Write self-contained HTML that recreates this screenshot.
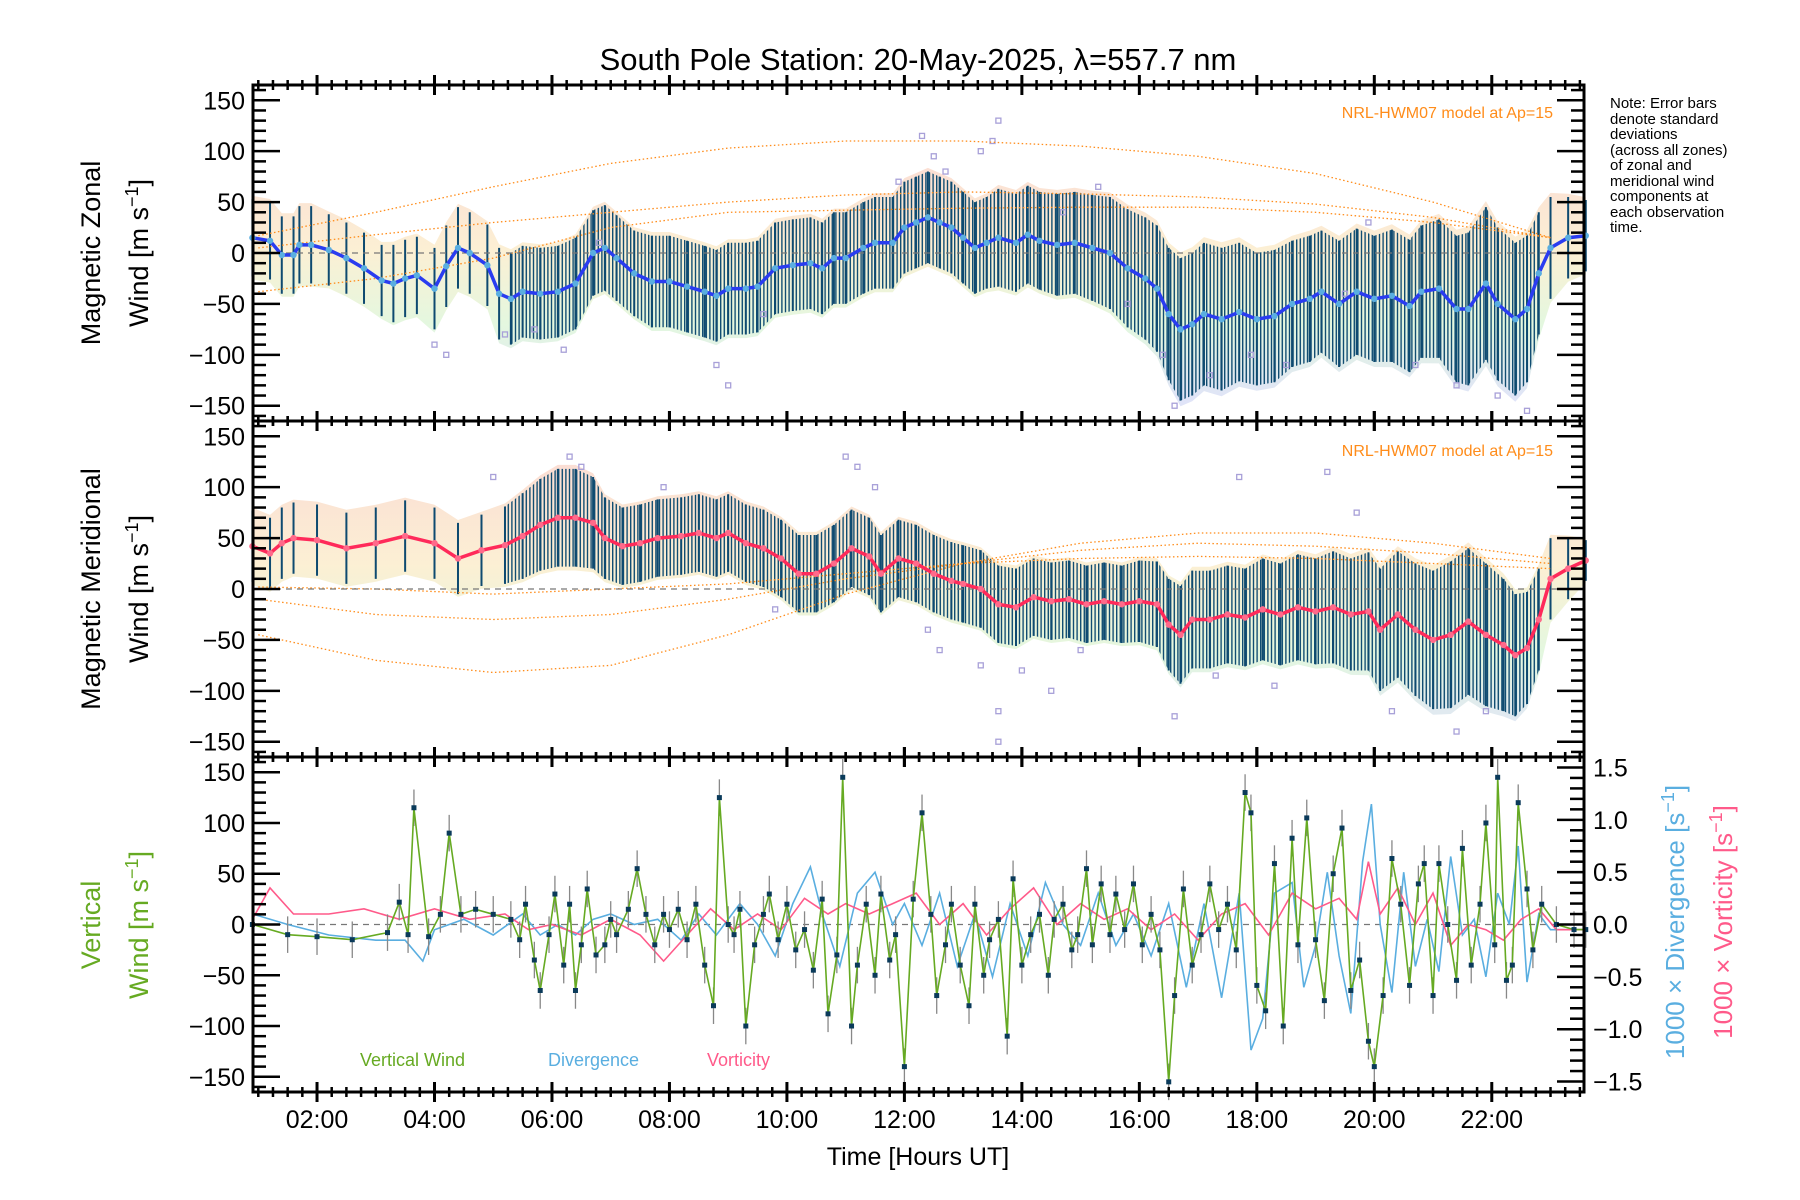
<!DOCTYPE html>
<html><head><meta charset="utf-8"><style>
body{margin:0;background:#fff}
svg{display:block;font-family:"Liberation Sans",sans-serif}
</style></head><body>
<svg id="chart" width="1800" height="1200" viewBox="0 0 1800 1200" xmlns="http://www.w3.org/2000/svg">
<defs>
<pattern id="stripes" patternUnits="userSpaceOnUse" width="3.6" height="10"><rect x="0" y="0" width="1.4" height="10" fill="#114d72"/></pattern>
<linearGradient id="paleZ" gradientUnits="userSpaceOnUse" x1="0" y1="150" x2="0" y2="400"><stop offset="0" stop-color="#f7b8a8"/><stop offset="0.4" stop-color="#f8e0a8"/><stop offset="0.7" stop-color="#c8f0c0"/><stop offset="1" stop-color="#c0c8f0"/></linearGradient>
<linearGradient id="paleM" gradientUnits="userSpaceOnUse" x1="0" y1="450" x2="0" y2="740"><stop offset="0" stop-color="#f7b8a8"/><stop offset="0.4" stop-color="#f8e0a8"/><stop offset="0.7" stop-color="#c8f0c0"/><stop offset="1" stop-color="#c0c8f0"/></linearGradient>
</defs>
<g id="layer"></g>
<text x="918" y="70" font-size="31" text-anchor="middle">South Pole Station: 20-May-2025, λ=557.7 nm</text>
<text x="918" y="1165" font-size="25" text-anchor="middle">Time [Hours UT]</text>
<g font-size="27" text-anchor="middle">
<text transform="translate(100,253) rotate(-90)">Magnetic Zonal</text>
<text transform="translate(148,253) rotate(-90)">Wind [m s<tspan dy="-10" font-size="18">−1</tspan><tspan dy="10">]</tspan></text>
</g>
<g font-size="27" text-anchor="middle">
<text transform="translate(100,589) rotate(-90)">Magnetic Meridional</text>
<text transform="translate(148,589) rotate(-90)">Wind [m s<tspan dy="-10" font-size="18">−1</tspan><tspan dy="10">]</tspan></text>
</g>
<g font-size="27" text-anchor="middle" fill="#66aa22">
<text transform="translate(100,925) rotate(-90)">Vertical</text>
<text transform="translate(148,925) rotate(-90)">Wind [m s<tspan dy="-10" font-size="18">−1</tspan><tspan dy="10">]</tspan></text>
</g>
<text font-size="26" text-anchor="middle" fill="#5aaee0" transform="translate(1684,922) rotate(-90)">1000 × Divergence [s<tspan dy="-10" font-size="18">−1</tspan><tspan dy="10">]</tspan></text>
<text font-size="26" text-anchor="middle" fill="#ff5a8a" transform="translate(1732,922) rotate(-90)">1000 × Vorticity [s<tspan dy="-10" font-size="18">−1</tspan><tspan dy="10">]</tspan></text>
<g font-size="15">
<text x="1610" y="108">Note: Error bars</text><text x="1610" y="124">denote standard</text><text x="1610" y="139">deviations</text><text x="1610" y="155">(across all zones)</text><text x="1610" y="170">of zonal and</text><text x="1610" y="186">meridional wind</text><text x="1610" y="201">components at</text><text x="1610" y="217">each observation</text><text x="1610" y="232">time.</text>
</g>
<text x="1553" y="118" font-size="16" fill="#ff8c1a" text-anchor="end">NRL-HWM07 model at Ap=15</text>
<text x="1553" y="456" font-size="16" fill="#ff8c1a" text-anchor="end">NRL-HWM07 model at Ap=15</text>
<text x="360" y="1066" font-size="18" fill="#66aa22">Vertical Wind</text>
<text x="548" y="1066" font-size="18" fill="#5aaee0">Divergence</text>
<text x="707" y="1066" font-size="18" fill="#ff5a8a">Vorticity</text>
</svg>
<script>
// ---- data ----
const zonalT=[0.9,1.2,1.4,1.6,1.7,1.9,2.2,2.5,2.8,3.1,3.3,3.5,3.7,4.0,4.2,4.4,4.6,4.9,5.1,5.3,5.5,5.8,6.1,6.4,6.7,6.9,7.1,7.4,7.7,8.0,8.3,8.6,8.8,9.0,9.3,9.5,9.8,10.1,10.4,10.6,10.8,11.0,11.3,11.5,11.8,12.0,12.2,12.4,12.6,12.8,13.0,13.2,13.4,13.6,13.9,14.1,14.3,14.6,14.9,15.2,15.5,15.8,16.1,16.3,16.5,16.7,16.9,17.1,17.4,17.7,18.0,18.3,18.6,18.9,19.1,19.4,19.7,20.0,20.3,20.6,20.8,21.1,21.4,21.6,21.9,22.1,22.4,22.6,22.8,23.0,23.3,23.6];
const zonalV=[15,12,-2,-2,8,8,3,-5,-15,-27,-30,-25,-22,-35,-13,5,0,-12,-40,-45,-38,-40,-38,-30,0,5,-5,-20,-28,-28,-33,-38,-42,-35,-35,-33,-15,-12,-10,-15,-5,-5,5,10,10,25,30,35,30,25,15,5,10,15,10,18,12,8,10,5,0,-15,-25,-35,-60,-75,-70,-60,-65,-58,-65,-62,-50,-45,-38,-50,-38,-45,-42,-52,-38,-35,-55,-55,-30,-50,-65,-55,-20,5,15,17];
const zonalS=[38,38,38,38,38,38,35,35,35,35,38,38,38,40,40,40,40,40,45,45,45,45,45,45,42,42,42,42,45,45,45,45,45,45,45,45,45,45,45,45,45,45,45,45,45,45,45,45,45,45,45,45,45,48,48,48,48,50,50,52,55,58,60,62,65,70,70,70,70,68,65,65,62,62,60,62,62,62,65,65,65,68,72,75,75,75,75,72,60,50,40,35];
const meridT=[0.9,1.2,1.4,1.6,2.0,2.5,3.0,3.5,4.0,4.4,4.8,5.2,5.5,5.8,6.1,6.4,6.7,6.9,7.2,7.5,7.8,8.2,8.5,8.8,9.0,9.3,9.6,9.9,10.2,10.5,10.8,11.1,11.4,11.6,11.9,12.2,12.5,12.8,13.0,13.3,13.6,13.9,14.2,14.5,14.8,15.1,15.4,15.7,16.0,16.3,16.5,16.7,16.9,17.2,17.5,17.8,18.1,18.4,18.7,19.0,19.3,19.6,19.9,20.1,20.4,20.7,21.0,21.3,21.6,21.9,22.2,22.4,22.6,22.8,23.0,23.3,23.6];
const meridV=[42,35,45,50,48,40,45,52,45,30,38,43,52,63,70,70,65,50,42,45,50,52,55,50,55,45,40,30,15,15,25,40,32,15,30,25,15,8,5,0,-15,-18,-8,-12,-10,-15,-12,-15,-12,-15,-35,-45,-30,-30,-25,-28,-20,-25,-18,-22,-18,-25,-22,-40,-25,-40,-50,-45,-32,-45,-55,-65,-58,-30,10,20,28];
const meridS=[35,35,35,35,35,35,35,35,35,35,35,38,42,45,48,48,45,40,38,38,38,38,38,38,38,38,38,38,38,38,38,38,38,38,38,38,38,38,38,38,38,38,38,38,38,38,38,38,40,42,45,48,48,48,48,48,50,50,52,52,55,55,58,60,62,65,68,72,72,70,65,60,55,50,40,30,20];
const modelT=[1,3,5,7,9,11,13,15,17,19,21,23];
const zonalModelA=[17,40,65,88,103,110,110,105,95,78,50,15];
const zonalModelB=[5,18,30,40,50,57,60,58,55,48,35,15];
const zonalModelC=[-38,-25,-5,25,40,42,44,45,45,40,30,15];
const meridModelA=[-45,-70,-82,-75,-45,-5,25,45,55,55,45,30];
const meridModelB=[-10,-25,-30,-25,-10,10,25,38,45,42,35,25];
const meridModelC=[2,0,-5,0,5,15,25,30,32,30,25,20];
const zonalOutT=[4.2,4.0,5.2,6.2,6.8,8.8,9.0,11.9,12.3,12.5,12.7,13.6,13.3,13.5,15.3,15.8,16.4,16.6,17.2,18.5,19.5,19.9,20.7,21.4,22.1,22.6,9.6,5.7,14.7,17.9];
const zonalOutV=[-100,-90,-80,-95,10,-110,-130,70,115,95,80,130,100,110,65,-50,-100,-150,-120,-110,-40,30,-110,-130,-140,-155,-60,-75,40,-100];
const meridOutT=[5.0,6.3,6.5,7.9,11.0,11.2,11.5,12.6,13.3,13.6,13.6,14.0,14.5,16.6,17.3,18.3,19.2,19.7,20.3,21.4,21.9,17.7,15.0,9.8,12.4];
const meridOutV=[110,130,120,100,130,120,100,-60,-75,-120,-150,-80,-100,-125,-85,-95,115,75,-120,-140,-120,110,-60,-20,-40];
const vertT=[0.9,1.5,2.0,2.6,3.2,3.4,3.55,3.65,3.9,4.1,4.25,4.45,4.7,5.0,5.3,5.45,5.55,5.7,5.8,5.95,6.05,6.2,6.3,6.4,6.5,6.6,6.75,6.9,7.0,7.1,7.3,7.45,7.6,7.75,7.9,8.0,8.15,8.3,8.45,8.6,8.75,8.85,9.0,9.1,9.2,9.3,9.45,9.6,9.7,9.85,10.0,10.15,10.3,10.45,10.6,10.7,10.85,10.95,11.1,11.2,11.35,11.5,11.6,11.75,11.85,12.0,12.15,12.3,12.45,12.55,12.7,12.8,12.95,13.1,13.2,13.35,13.45,13.6,13.75,13.85,14.0,14.15,14.3,14.45,14.55,14.7,14.85,14.95,15.1,15.2,15.35,15.5,15.6,15.75,15.9,16.05,16.2,16.35,16.5,16.6,16.75,16.9,17.05,17.2,17.35,17.5,17.65,17.8,17.9,18.0,18.15,18.3,18.45,18.6,18.7,18.85,19.0,19.15,19.3,19.45,19.6,19.75,19.9,20.0,20.15,20.3,20.45,20.6,20.75,20.85,21.0,21.1,21.25,21.4,21.5,21.65,21.8,21.9,22.05,22.1,22.25,22.35,22.45,22.6,22.7,22.85,23.1,23.4,23.6];
const vertV=[0,-10,-12,-15,-8,22,-10,115,-12,10,90,10,15,10,5,-15,20,-35,-65,-10,30,-40,20,-65,-20,35,-30,-20,5,-10,15,55,10,-20,10,-5,15,-15,20,-40,-80,125,0,-10,15,-100,-20,10,30,-15,20,-25,-5,-45,25,-88,-30,145,-100,-40,20,-50,30,-35,-10,-140,25,110,10,-70,-20,20,-40,-80,20,-50,-15,5,-110,45,-40,-10,10,-50,5,20,-25,-10,55,-20,40,-10,30,-5,40,-20,10,-25,-155,-70,35,-40,-10,40,-5,20,-25,130,110,-60,-85,60,-100,85,-20,105,-15,-75,50,95,-65,-35,-115,-140,-70,65,20,-60,40,60,-70,60,0,-55,75,-40,20,100,-20,145,-55,-40,120,35,-25,20,0,-5,-5];
const vertErr=18;
const divT=[0.9,1.5,2.2,3.0,3.5,3.8,4.0,4.5,5.0,5.5,5.8,6.1,6.4,6.7,7.0,7.4,7.8,8.2,8.5,8.8,9.2,9.5,9.8,10.1,10.4,10.6,10.9,11.2,11.5,11.8,12.0,12.3,12.6,12.9,13.2,13.5,13.8,14.1,14.4,14.7,15.0,15.3,15.6,15.9,16.2,16.5,16.8,17.1,17.4,17.7,17.9,18.1,18.3,18.6,18.8,19.0,19.2,19.4,19.6,19.8,19.95,20.1,20.3,20.5,20.7,20.9,21.1,21.3,21.5,21.7,21.9,22.1,22.3,22.45,22.6,22.8,23.0,23.6];
const divV=[0.1,0.0,-0.1,-0.15,-0.15,-0.35,-0.05,0.05,-0.1,0.1,-0.1,0.0,-0.1,0.05,0.1,0.0,0.05,-0.15,0.1,-0.1,0.2,0.0,-0.3,0.2,0.55,0.1,-0.4,0.3,0.5,0.0,0.2,-0.2,0.3,-0.4,0.1,-0.5,0.2,-0.3,0.4,0.0,-0.2,0.3,-0.2,0.1,-0.3,0.2,-0.6,0.2,-0.7,0.3,-1.2,-0.9,0.3,0.4,-0.6,-0.2,0.5,-0.3,-0.85,0.6,1.15,0.0,-0.65,0.5,-0.4,0.05,-0.45,0.65,-0.1,0.05,-0.5,0.3,0.0,0.75,-0.55,0.1,-0.05,-0.05];
const vortT=[0.9,1.2,1.6,2.2,2.8,3.4,4.0,4.6,5.2,5.6,6.0,6.5,7.0,7.5,7.9,8.3,8.7,9.1,9.5,9.9,10.3,10.7,11.0,11.4,11.8,12.2,12.6,13.0,13.4,13.8,14.2,14.6,15.0,15.4,15.8,16.2,16.6,17.0,17.4,17.8,18.2,18.6,19.0,19.4,19.7,19.9,20.1,20.4,20.7,21.0,21.3,21.6,21.9,22.2,22.5,22.8,23.1,23.6];
const vortV=[0.05,0.35,0.1,0.1,0.15,0.05,0.15,0.05,0.1,-0.05,0.0,-0.1,0.05,-0.1,-0.35,-0.1,0.15,-0.05,0.1,-0.05,0.25,0.1,0.2,0.1,0.2,0.3,0.0,0.2,-0.1,0.15,0.35,0.0,0.2,0.05,0.15,-0.05,0.1,-0.15,0.1,0.2,-0.1,0.3,0.15,0.25,0.05,0.6,0.1,0.35,0.0,0.3,-0.2,0.0,-0.05,-0.15,0.05,0.15,-0.05,-0.05];
const xTickLabels=["02:00","04:00","06:00","08:00","10:00","12:00","14:00","16:00","18:00","20:00","22:00"];
const yTickLabels=["150","100","50","0","−50","−100","−150"];
const rTickLabels=["1.5","1.0","0.5","0.0","−0.5","−1.0","−1.5"];

// ---- axes ----
const L=253,R=1584,T0=0.91,T1=23.57;
const panels=[{top:85,bot:421},{top:421,bot:757},{top:757,bot:1092}];
const X=t=>L+(t-T0)/(T1-T0)*(R-L);
const Y=(v,p)=>panels[p].top+(165-v)/330*(panels[p].bot-panels[p].top);
const YR=v=>panels[2].top+(1.6-v)/3.2*(panels[2].bot-panels[2].top);
const NS='http://www.w3.org/2000/svg';
const layer=document.getElementById('layer');
function mk(tag,attrs,parent){const e=document.createElementNS(NS,tag);for(const k in attrs)e.setAttribute(k,attrs[k]);(parent||layer).appendChild(e);return e;}
function grp(name){const g=mk('g',{});


return g;}
function pts(ts,vs,f){return ts.map((t,i)=>X(t).toFixed(1)+','+f(vs[i]).toFixed(1)).join(' ');}

function windPanel(p,T,V,S,O_T,O_V,models,paleId,lineCol,dotCol,prefix){
  const band=grp(prefix+'-pale-band');
  let up=T.map((t,i)=>X(t).toFixed(1)+','+Y(V[i]+S[i]*1.08,p).toFixed(1));
  let dn=T.map((t,i)=>X(t).toFixed(1)+','+Y(V[i]-S[i]*1.08,p).toFixed(1)).reverse();
  mk('polygon',{points:up.concat(dn).join(' '),fill:'url(#'+paleId+')',opacity:0.5},band);
  const idx=T.map((t,i)=>i).filter(i=>T[i]>=5.2&&T[i]<=22.85);
  const sg=grp(prefix+'-error-band');
  let u2=idx.map(i=>X(T[i]).toFixed(1)+','+Y(V[i]+S[i],p).toFixed(1));
  let d2=idx.map(i=>X(T[i]).toFixed(1)+','+Y(V[i]-S[i],p).toFixed(1)).reverse();
  mk('polygon',{points:u2.concat(d2).join(' '),fill:'url(#stripes)'},sg);
  const eb=grp(prefix+'-error-bars');
  T.forEach((t,i)=>{const l=mk('line',{x1:X(t),x2:X(t),y1:Y(V[i]+S[i],p),y2:Y(V[i]-S[i],p),stroke:'#0e4a70','stroke-width':2},eb);
  
  });
  const og=grp(prefix+'-outlier-points');
  O_T.forEach((t,i)=>{const r=mk('rect',{x:X(t)-2.5,y:Y(O_V[i],p)-2.5,width:5,height:5,fill:'none',stroke:'#a8a0d8','stroke-width':1.3},og);
  
  });
  const mg=grp(prefix+'-hwm-model-curves');
  models.forEach(m=>{mk('polyline',{points:pts(modelT,m,v=>Y(v,p)),fill:'none',stroke:'#ff8c1a','stroke-width':1.3,'stroke-dasharray':'1.5 2.5'},mg);});
  const z=mk('line',{x1:L,x2:R,y1:Y(0,p),y2:Y(0,p),stroke:'#777','stroke-width':1.2,'stroke-dasharray':'6 5'});
  
  
  const ml=mk('polyline',{points:pts(T,V,v=>Y(v,p)),fill:'none',stroke:lineCol,'stroke-width':3.5});
  
  
  const dg=grp(prefix+'-mean-points');
  T.forEach((t,i)=>{const c=mk('circle',{cx:X(t),cy:Y(V[i],p),r:3.2,fill:dotCol},dg);
  
  });
}
windPanel(0,zonalT,zonalV,zonalS,zonalOutT,zonalOutV,[zonalModelA,zonalModelB,zonalModelC],'paleZ','#2a3cf0','#5aaee0','zonal');
windPanel(1,meridT,meridV,meridS,meridOutT,meridOutV,[meridModelA,meridModelB,meridModelC],'paleM','#ff2a5a','#ff6a8a','meridional');

const z3=mk('line',{x1:L,x2:R,y1:Y(0,2),y2:Y(0,2),stroke:'#777','stroke-width':1.2,'stroke-dasharray':'6 5'});


const dl=mk('polyline',{points:pts(divT,divV,YR),fill:'none',stroke:'#5aaee0','stroke-width':1.6});


const vl=mk('polyline',{points:pts(vortT,vortV,YR),fill:'none',stroke:'#ff5a8a','stroke-width':1.6});


const veb=grp('vertical-error-bars');
vertT.forEach((t,i)=>{const l=mk('line',{x1:X(t),x2:X(t),y1:Y(vertV[i]+vertErr,2),y2:Y(vertV[i]-vertErr,2),stroke:'#888','stroke-width':1.3},veb);

});
const vw=mk('polyline',{points:pts(vertT,vertV,v=>Y(v,2)),fill:'none',stroke:'#66aa22','stroke-width':1.6});


const vpg=grp('vertical-wind-points');
vertT.forEach((t,i)=>{const r=mk('rect',{x:X(t)-2.5,y:Y(vertV[i],2)-2.5,width:5,height:5,fill:'#0a3a5a'},vpg);

});

const ax=grp('axes');
panels.forEach((pp,p)=>{
  mk('rect',{x:L,y:pp.top,width:R-L,height:pp.bot-pp.top,fill:'none',stroke:'#000','stroke-width':3},ax);
  for(let v=-160;v<=160;v+=10){const y=Y(v,p);const maj=v%50===0;const len=maj?27:13;
    mk('line',{x1:L,x2:L+len,y1:y,y2:y,stroke:'#000','stroke-width':2.5},ax);
    if(p<2)mk('line',{x1:R,x2:R-len,y1:y,y2:y,stroke:'#000','stroke-width':2.5},ax);}
  yTickLabels.forEach((s,i)=>{const v=150-50*i;const tx=mk('text',{x:245,y:Y(v,p)+9,'font-size':25,'text-anchor':'end'},ax);tx.textContent=s;
  
  });
  for(let m=0;m<=23.6*4;m++){const t=m/4;if(t<T0||t>T1)continue;const x=X(t);const maj=(m%8===0);const len=maj?10:5;
    mk('line',{x1:x,x2:x,y1:pp.top-len,y2:pp.top+len,stroke:'#000','stroke-width':maj?3:2.5},ax);
    mk('line',{x1:x,x2:x,y1:pp.bot-len,y2:pp.bot+len,stroke:'#000','stroke-width':maj?3:2.5},ax);}
});
for(let k=-16;k<=16;k++){const v=k/10;const y=YR(v);const maj=k%5===0;const len=maj?27:14;
  mk('line',{x1:R,x2:R-len,y1:y,y2:y,stroke:'#000','stroke-width':2.5},ax);}
rTickLabels.forEach((s,i)=>{const v=1.5-0.5*i;const tx=mk('text',{x:1593,y:YR(v)+9,'font-size':25},ax);tx.textContent=s;

});
xTickLabels.forEach((s,i)=>{const t=2+2*i;const tx=mk('text',{x:X(t),y:1128,'font-size':25,'text-anchor':'middle'},ax);tx.textContent=s;

});
</script>
</body></html>
